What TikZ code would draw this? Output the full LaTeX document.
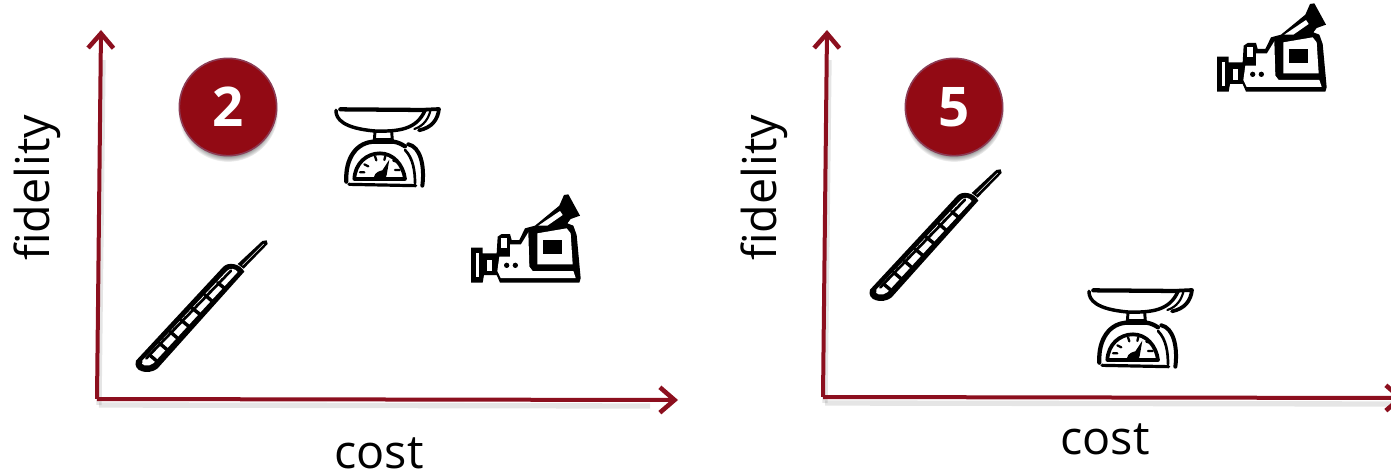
\documentclass[tikz,border=0pt]{standalone}
\usepackage{fontspec}
\usepackage{xcolor}
\setmainfont{Open Sans}
\usetikzlibrary{arrows.meta, shadows}
\definecolor{axisred}{RGB}{140,15,30}
\definecolor{badgered}{RGB}{146,10,20}
\definecolor{badgerim}{RGB}{140,60,85}

\tikzset{
    axisline/.style={line width=3pt, axisred, -{Straight Barb[length=11pt, width=19pt, line width=3.4pt 0]}},
    axisshade/.style={line width=4pt, black, opacity=0.1},
    axislabel/.style={font=\fontsize{35}{35}\selectfont, text=black, inner sep=0pt},
    badge/.style={circle, minimum size=73pt, inner sep=0pt, fill=badgered, draw=badgerim, line width=1.2pt,
                  text=white, font=\fontsize{41}{41}\selectfont\bfseries,
                  circular drop shadow={shadow xshift=0pt, shadow yshift=-3.5pt, shadow scale=1.03}},
    % icons are traced in units of a third of a pixel
    inkline/.style={draw=black, line cap=round, line join=round, fill=none},
    camera/.pic={
        \fill[black] (33,188) -- (68,188) -- (68,205) -- (110,205) -- (113,155) -- (125,147) -- (150,147)
            -- (155,165) -- (178,165) -- (195,130) -- (225,122) -- (298,62) -- (312,30) -- (325,28) -- (360,92)
            -- (332,102) -- (322,115) -- (340,122) -- (350,150) -- (362,280) -- (358,293) -- (120,293)
            -- (110,270) -- (72,270) -- (68,293) -- (33,293) -- cycle;
        \fill[white] (47,205) -- (58,205) -- (58,276) -- (47,276) -- cycle;
        \fill[white] (80,225) -- (97,225) -- (97,258) -- (80,258) -- cycle;
        \fill[white] (124,160) -- (140,160) -- (140,190) -- (124,190) -- cycle;
        \fill[white] (118,215) -- (150,215) -- (150,178) -- (183,178) -- (205,142) -- (208,245)
            -- (218,258) -- (340,258) -- (347,279) -- (122,279) -- (112,258) -- cycle;
        \fill[white] (232,145) -- (320,130) -- (332,145) -- (338,238) -- (232,238) -- cycle;
        \fill[white] (235,122) -- (300,78) -- (308,90) -- (262,122) -- cycle;
        \fill[black] (250,166) -- (305,166) -- (305,206) -- (250,206) -- cycle;
        \fill[black] (140,241) circle (8);
        \fill[black] (166,241) circle (8);
    },
    kitchenscale/.pic={
        % pan
        \draw[inkline, line width=3.2pt] (46,43) -- (300,45);
        \draw[inkline, line width=2.6pt] (33,46) .. controls (32,72) and (55,100) .. (150,108)
            .. controls (220,110) and (275,104) .. (300,46);
        \draw[inkline, line width=2.8pt] (300,44) -- (342,42) .. controls (338,75) and (320,98) .. (282,106);
        \draw[inkline, line width=1.6pt] (316,48) .. controls (310,70) and (298,92) .. (268,102);
        % neck
        \draw[inkline, line width=2.2pt] (150,110) -- (148,135) (200,110) -- (202,135);
        \draw[inkline, line width=2.4pt] (148,134) -- (202,134);
        % body
        \draw[inkline, line width=3.2pt] (64,260) .. controls (60,190) and (95,140) .. (150,140)
            -- (205,140) .. controls (220,142) and (230,148) .. (240,154);
        \draw[inkline, line width=3pt] (250,148) .. controls (285,155) and (300,210) .. (292,272);
        \draw[inkline, line width=2pt] (240,165) .. controls (265,190) and (270,230) .. (270,265);
        \draw[inkline, line width=2.4pt] (72,268) -- (272,272);
        % dial
        \draw[inkline, line width=2.8pt] (88,252) .. controls (90,205) and (125,175) .. (165,175)
            .. controls (205,175) and (235,210) .. (240,252) -- cycle;
        \draw[inkline, line width=1.7pt] (105,232) -- (118,232) (118,208) -- (130,214) (150,184) -- (154,196)
            (181,183) -- (178,195) (205,197) -- (214,200) (210,225) -- (224,225);
        \fill[black] (146,248) .. controls (150,230) and (165,228) .. (172,226) -- (193,194)
            -- (185,240) -- (182,248) -- cycle;
    },
    thermometer/.pic={
        % body outline
        \fill[black] (33,392) -- (295,110) .. controls (310,95) and (345,100) .. (358,125)
            -- (97,416) .. controls (70,436) and (22,425) .. (33,392) -- cycle;
        \fill[white] (52,392) -- (307,122) .. controls (316,113) and (332,116) .. (338,126)
            -- (85,400) .. controls (70,412) and (44,408) .. (52,392) -- cycle;
        % stem
        \fill[black] (338,102) -- (412,33) -- (425,31) -- (428,42) -- (356,116) -- cycle;
        \draw[white, line width=0.4pt] (352,106) -- (416,42);
        % scale marks
        \draw[inkline, line width=2pt] (64,385) -- (318,122);
        \draw[inkline, line width=2.6pt] (75,376) -- (94,392) (104,340) -- (125,358) (135,305) -- (156,323)
            (168,270) -- (190,288) (202,235) -- (225,253) (240,195) -- (262,214) (278,158) -- (300,176);
        \fill[black] (85,360) circle (3.5) (115,328) circle (3.5) (147,295) circle (3.5) (180,262) circle (3.5)
            (215,226) circle (3.5) (254,185) circle (3.5) (290,148) circle (3.5);
    }
}

\begin{document}
\begin{tikzpicture}[x=0.75pt, y=-0.75pt]
\useasboundingbox (0,0) rectangle (1391,474);

% Left panel
\coordinate (orgA) at (97,399);
\coordinate (topA) at (101,30);
\coordinate (endA) at (678,400);
\coordinate (orgAs) at (99,405);
\coordinate (topAs) at (103,60);
\coordinate (endAs) at (650,406);
\draw [axisshade] (orgAs) -- (topAs);
\draw [axisshade] (orgAs) -- (endAs);
\draw [axisline] (orgA) -- (topA);
\draw [axisline] (orgA) -- (endA);
\node (costA) [axislabel, anchor=base] at (379,468) {cost};
\node (fidA)  [axislabel, rotate=90] at (37,188) {fidelity};
\node (numA)  [badge] at (228,107) {2};
\pic (scaleA) [scale=1/3] at (325,95) {kitchenscale};
\pic (camA)   [scale=1/3] at (460,185) {camera};
\pic (thermA) [scale=1/3] at (125,230) {thermometer};

% Right panel
\coordinate (orgB) at (823,397);
\coordinate (topB) at (827,30);
\coordinate (endB) at (1404,398);
\coordinate (orgBs) at (825,403);
\coordinate (topBs) at (829,60);
\coordinate (endBs) at (1391,404);
\draw [axisshade] (orgBs) -- (topBs);
\draw [axisshade] (orgBs) -- (endBs);
\draw [axisline] (orgB) -- (topB);
\draw [axisline] (orgB) -- (endB);
\node (costB) [axislabel, anchor=base] at (1105,454) {cost};
\node (fidB)  [axislabel, rotate=90] at (764,188) {fidelity};
\node (numB)  [badge] at (954,107) {5};
\pic (scaleB) [scale=1/3] at (1078,276) {kitchenscale};
\pic (camB)   [scale=1/3] at (1206,-6) {camera};
\pic (thermB) [scale=1/3] at (859,159) {thermometer};
\end{tikzpicture}
\end{document}
